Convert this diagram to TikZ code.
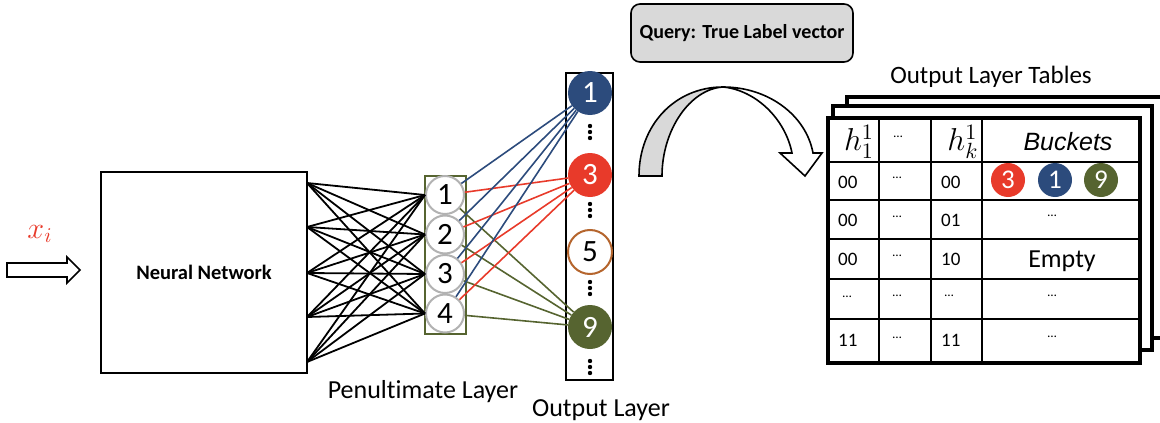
\RequirePackage{fix-cm}
\documentclass[tikz,border=0pt]{standalone}
\usepackage{graphicx}
\usepackage{fontspec}
\setmainfont{Carlito}[Ligatures=NoCommon]
\newfontfamily\helvfont{Liberation Sans}
\usetikzlibrary{positioning, calc}
\definecolor{hashblue}{RGB}{44, 75, 124}
\definecolor{hashred}{RGB}{232, 58, 42}
\definecolor{hashgreen}{RGB}{86, 100, 48}
\definecolor{hashbrown}{RGB}{181, 101, 45}
\definecolor{querygray}{RGB}{217, 217, 217}

\begin{document}
\begin{tikzpicture}[x=1pt, y=-1pt,
  pennode/.style={circle, draw=gray!60, line width=2pt, fill=white, minimum size=38pt, inner sep=0pt, font=\fontsize{31}{31}\selectfont},
  outnode/.style={circle, minimum size=44pt, inner sep=0pt, text=white, font=\fontsize{31}{31}\selectfont},
  bucket/.style={circle, minimum size=34pt, inner sep=0pt, text=white, font=\fontsize{27}{27}\selectfont},
  cell/.style={anchor=west, inner sep=0pt, font=\fontsize{19}{19}\selectfont},
  celldots/.style={inner sep=0pt, font=\fontsize{13}{13}\selectfont},
  frame/.style={draw, line width=4pt, fill=white}]

  \useasboundingbox (0,0) rectangle (1160,423);

  % input and network
  \draw[line width=1.6pt, fill=white] (7,263) -- (67,263) -- (67,257) -- (80,270) -- (67,283) -- (67,277) -- (7,277) -- cycle;
  \node[text=hashred, font=\Large, inner sep=0pt] (xin) at (40,234) {\scalebox{2.1}{$x_i$}};
  \node[draw, line width=2.2pt, minimum width=206pt, minimum height=201pt, font=\bfseries\fontsize{20.5}{20.5}\selectfont] (nn) at (204,272.5) {Neural Network};
  \foreach \y [count=\i] in {183,227,273,317,362}
    \coordinate (n\i) at (307,\y);

  % penultimate layer
  \node[draw=hashgreen, line width=1.8pt, minimum width=41pt, minimum height=158pt] (pen) at (445.5,255) {};
  \foreach \y [count=\i] in {195,234.5,274,313.5}
    \node[pennode] (p\i) at (445,\y) {\i};
  \foreach \i in {1,...,5}
    \foreach \j in {1,...,4}
      \draw[line width=1.8pt] (n\i) -- (p\j.west);

  % output layer
  \node[draw, line width=2.4pt, minimum width=47pt, minimum height=307pt] (outcol) at (589.5,226.5) {};
  \node[outnode, fill=hashblue] (o1) at (590,93) {1};
  \node[outnode, fill=hashred] (o3) at (590,175) {3};
  \node[outnode, draw=hashbrown, line width=2pt, fill=white, text=black] (o5) at (590,252) {5};
  \node[outnode, fill=hashgreen] (o9) at (590,327) {9};
  \foreach \y in {132,210,288,367}
    \foreach \d in {-6,0,6}
      \fill (590,{\y+\d}) circle (2.2pt);
  \foreach \j in {1,...,4} {
    \draw[hashblue, line width=1.6pt] (p\j) -- (o1);
    \draw[hashred, line width=1.6pt] (p\j) -- (o3);
    \draw[hashgreen, line width=1.6pt] (p\j) -- (o9);
  }

  \node[font=\fontsize{26}{26}\selectfont] (penlbl) at (423,392) {Penultimate Layer};
  \node[font=\fontsize{26}{26}\selectfont] (outlbl) at (601,410) {Output Layer};

  % query and curved arrow
  \node[draw, line width=1.6pt, rounded corners=9pt, fill=querygray, minimum width=222pt, minimum height=58pt, font=\bfseries\fontsize{20}{20}\selectfont] (query) at (742,33) {Query: True Label vector};
  \draw[line width=1.6pt, fill=querygray] (639,176) .. controls (639,125) and (675,87) .. (723,87)
    .. controls (690,89) and (662,130) .. (662,176) -- cycle;
  \draw[line width=1.6pt, fill=white] (723,87) .. controls (768,87) and (806,115) .. (813,153)
    -- (822,153) -- (805,176) -- (780,153) -- (792,153)
    .. controls (785,118) and (755,90) .. (723,87) -- cycle;

  % hash tables
  \node[font=\fontsize{25}{25}\selectfont] (tbltitle) at (991,77) {Output Layer Tables};
  \draw[frame] (847,97) rectangle (1180,338);
  \draw[frame] (833,106) rectangle (1152,350);
  \draw[frame] (828,118) rectangle (1140,363);
  \foreach \x in {879,931,982}
    \draw[line width=2pt] (\x,118) -- (\x,363);
  \foreach \y in {162,200,239,279,319}
    \draw[line width=2pt] (828,\y) -- (1140,\y);

  \node[font=\Large, inner sep=0pt] (h1) at (859,142) {\scalebox{2.2}{$h_1^1$}};
  \node[celldots] at (898,137) {…};
  \node[font=\Large, inner sep=0pt] (hk) at (963,142) {\scalebox{2.2}{$h_k^1$}};
  \node[font=\helvfont\itshape\fontsize{25}{25}\selectfont] (bktlbl) at (1068,142) {Buckets};

  \foreach \y/\a/\b in {182/00/00, 220.5/00/01, 259/00/10, 340/11/11} {
    \node[cell] at (838,\y) {\a};
    \node[cell] at (941,\y) {\b};
  }
  \foreach \y in {181,219.5,259,299,340.5}
    \node[celldots] at (897,{\y-3}) {…};
  \node[celldots] at (847,297) {…};
  \node[celldots] at (949,296) {…};

  \node[bucket, fill=hashred] (b3) at (1008,180) {3};
  \node[bucket, fill=hashblue] (b1) at (1055,180) {1};
  \node[bucket, fill=hashgreen] (b9) at (1101,180) {9};
  \node[celldots] at (1052,216) {…};
  \node[font=\fontsize{26}{26}\selectfont] (empty) at (1062,261) {Empty};
  \node[celldots] at (1052,296) {…};
  \node[celldots] at (1052,337) {…};
\end{tikzpicture}
\end{document}
